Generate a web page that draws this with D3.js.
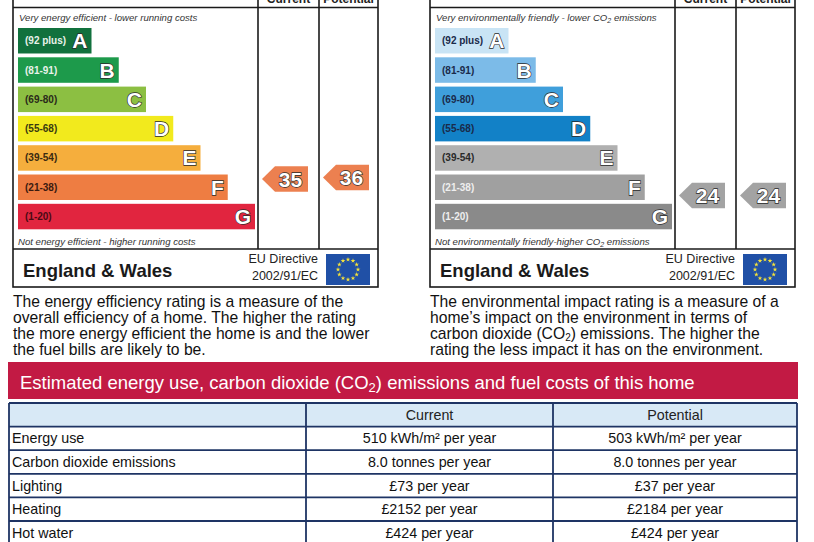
<!DOCTYPE html>
<html>
<head>
<meta charset="utf-8">
<script src="https://cdn.jsdelivr.net/npm/d3@7"></script>
<style>
  body { margin: 0; background: #fff; }
  svg { display: block; font-family: "Liberation Sans", Arial, sans-serif; }
</style>
</head>
<body>
<svg id="chart" width="814" height="542"></svg>
<script>
// Rating bands, shared by both graphs
const bands = ["A", "B", "C", "D", "E", "F", "G"];
const bandRanges = ["(92 plus)", "(81-91)", "(69-80)", "(55-68)", "(39-54)", "(21-38)", "(1-20)"];
const bandLo = [92, 81, 69, 55, 39, 21, 1];
const bandHi = [100, 91, 80, 68, 54, 38, 20];

const energyColors = ["#11713d", "#1d9a4b", "#8cbf42", "#f2ea1d", "#f5ae3d", "#ee7d42", "#e1253f"];
const envColors = ["#c9e4f5", "#7cbbe8", "#3f9fdb", "#1281c7", "#b0b0b0", "#a0a0a0", "#8a8a8a"];
const energyRangeText = ["#e9f2ea", "#e9f2ea", "#2a2a1a", "#3a3a10", "#3a2a10", "#3a1a10", "#4a0a14"];
const envRangeText = ["#1a2a4a", "#1a2a4a", "#1a2a4a", "#1a2a4a", "#2a2a2a", "#eeeeee", "#eeeeee"];

// current, potential
const energyRatings = [35, 36];
const envRatings = [24, 24];
const columnLabels = ["Current", "Potential"];

// Estimated energy use table
const tableHeader = ["", "Current", "Potential"];
const rowLabels = ["Energy use", "Carbon dioxide emissions", "Lighting", "Heating", "Hot water"];
const currentValues = ["510 kWh/m² per year", "8.0 tonnes per year", "£73 per year", "£2152 per year", "£424 per year"];
const potentialValues = ["503 kWh/m² per year", "8.0 tonnes per year", "£37 per year", "£2184 per year", "£424 per year"];

const svg = d3.select("#chart");

// Draws one rating graph (box, bars, arrows, footer)
function drawPanel(left, opts) {
	const g = svg.append("g").attr("transform", `translate(${left},0)`);
	const W = 365, footerY = 249, bottom = 287;
	const colX = [245, 306, W];

	const y = d3.scaleBand().domain(bands).range([28, 229.3]).paddingInner(0.13);
	const barW = d3.scaleLinear().domain([0, 6]).range([73.5, 237]);
	const bw = y.bandwidth();

	// Box and grid lines
	g.append("rect").attr("x", 0).attr("y", -20).attr("width", W).attr("height", bottom + 20)
		.attr("fill", "none").attr("stroke", "#1a1a1a").attr("stroke-width", 1.6);
	g.append("line").attr("x1", 0).attr("x2", W).attr("y1", 7.5).attr("y2", 7.5)
		.attr("stroke", "#1a1a1a").attr("stroke-width", 1.6);
	g.append("line").attr("x1", 0).attr("x2", W).attr("y1", footerY).attr("y2", footerY)
		.attr("stroke", "#1a1a1a").attr("stroke-width", 1.6);
	g.selectAll("line.col").data(colX.slice(0, 2)).join("line").attr("class", "col")
		.attr("x1", d => d).attr("x2", d => d).attr("y1", -20).attr("y2", footerY)
		.attr("stroke", "#1a1a1a").attr("stroke-width", 1.6);

	// Column headers (cut off at top of picture)
	g.selectAll("text.hdr").data(columnLabels).join("text").attr("class", "hdr")
		.attr("x", (d, i) => (colX[i] + colX[i + 1]) / 2).attr("y", 3)
		.attr("text-anchor", "middle").attr("font-size", 12).attr("font-weight", "bold")
		.attr("fill", "#222").text(d => d);

	// Italic captions
	const capSize = 9.6;
	const topCap = g.append("text").attr("x", 6).attr("y", 20.5).attr("font-size", capSize)
		.attr("font-style", "italic").attr("fill", "#333");
	opts.topCaption.forEach(p => topCap.append("tspan").attr("dy", p.sub ? 2 : (p.after ? -2 : 0))
		.attr("font-size", p.sub ? 7 : capSize).text(p.t));
	const botCap = g.append("text").attr("x", 5).attr("y", 244.5).attr("font-size", capSize)
		.attr("font-style", "italic").attr("fill", "#333");
	opts.bottomCaption.forEach(p => botCap.append("tspan").attr("dy", p.sub ? 2 : (p.after ? -2 : 0))
		.attr("font-size", p.sub ? 7 : capSize).text(p.t));

	// Bars
	const bar = g.selectAll("g.bar").data(bands).join("g").attr("class", "bar")
		.attr("transform", d => `translate(5,${y(d)})`);
	bar.append("rect").attr("width", (d, i) => barW(i)).attr("height", bw)
		.attr("fill", (d, i) => opts.colors[i]);
	bar.append("text").attr("x", 7).attr("y", bw / 2 + 3.5).attr("font-size", 10)
		.attr("font-weight", "bold").attr("fill", (d, i) => opts.rangeText[i])
		.text((d, i) => bandRanges[i]);
	bar.append("text").attr("x", (d, i) => barW(i) - 4).attr("y", bw / 2 + 7.5)
		.attr("text-anchor", "end").attr("font-size", 21).attr("font-weight", "bold")
		.attr("fill", "#fff").attr("stroke", "#2a2a2a").attr("stroke-width", 1.3)
		.attr("paint-order", "stroke").text(d => d);

	// Rating arrows
	const arrowW = 46, tip = 13;
	opts.ratings.forEach((v, k) => {
		const i = bandLo.findIndex((lo, j) => v >= lo && v <= bandHi[j]);
		const frac = (bandHi[i] - v) / (bandHi[i] - bandLo[i]);
		const cy = y(bands[i]) + frac * bw;
		const x0 = colX[k] + 4;
		const pts = [[x0, cy], [x0 + tip, cy - bw / 2], [x0 + arrowW, cy - bw / 2],
			[x0 + arrowW, cy + bw / 2], [x0 + tip, cy + bw / 2]];
		g.append("path").attr("d", d3.line()(pts) + "Z").attr("fill", opts.arrowColor);
		g.append("text").attr("x", x0 + tip + (arrowW - tip) / 2 - 1).attr("y", cy + 7.5)
			.attr("text-anchor", "middle").attr("font-size", 21).attr("font-weight", "bold")
			.attr("fill", "#fff").attr("stroke", "#2a2a2a").attr("stroke-width", 1.3)
			.attr("paint-order", "stroke").text(v);
	});

	// Footer
	g.append("text").attr("x", 10).attr("y", 277).attr("font-size", 18.5).attr("font-weight", "bold")
		.attr("fill", "#1a1a1a").text("England & Wales");
	g.append("text").attr("x", 305).attr("y", 263).attr("text-anchor", "end").attr("font-size", 12.5)
		.attr("fill", "#222").text("EU Directive");
	g.append("text").attr("x", 305).attr("y", 280).attr("text-anchor", "end").attr("font-size", 12.5)
		.attr("fill", "#222").text("2002/91/EC");
	g.append("rect").attr("x", 313).attr("y", 254).attr("width", 44).attr("height", 31)
		.attr("fill", "#2050a6");
	const stars = d3.range(12);
	g.selectAll("path.star").data(stars).join("path").attr("class", "star")
		.attr("d", d3.symbol(d3.symbolStar, 7))
		.attr("transform", d => `translate(${335 + 10 * Math.cos(d * Math.PI / 6)},${269.5 + 10 * Math.sin(d * Math.PI / 6)})`)
		.attr("fill", "#f5e23a");
}

drawPanel(13, {
	colors: energyColors, rangeText: energyRangeText, ratings: energyRatings, arrowColor: "#ec8050",
	topCaption: [{t: "Very energy efficient - lower running costs"}],
	bottomCaption: [{t: "Not energy efficient - higher running costs"}]
});
drawPanel(430, {
	colors: envColors, rangeText: envRangeText, ratings: envRatings, arrowColor: "#a3a3a3",
	topCaption: [{t: "Very environmentally friendly - lower CO"}, {t: "2", sub: true}, {t: " emissions", after: true}],
	bottomCaption: [{t: "Not environmentally friendly-higher CO"}, {t: "2", sub: true}, {t: " emissions", after: true}]
});

// Explanatory paragraphs
const leftPara = [
	[{t: "The energy efficiency rating is a measure of the"}],
	[{t: "overall efficiency of a home. The higher the rating"}],
	[{t: "the more energy efficient the home is and the lower"}],
	[{t: "the fuel bills are likely to be."}]
];
const rightPara = [
	[{t: "The environmental impact rating is a measure of a"}],
	[{t: "home’s impact on the environment in terms of"}],
	[{t: "carbon dioxide (CO"}, {t: "2", sub: true}, {t: ") emissions. The higher the", after: true}],
	[{t: "rating the less impact it has on the environment."}]
];
function drawPara(x, lines) {
	lines.forEach((parts, i) => {
		const t = svg.append("text").attr("x", x).attr("y", 307 + i * 16)
			.attr("font-size", 15.7).attr("fill", "#111");
		parts.forEach(p => t.append("tspan").attr("dy", p.sub ? 2 : (p.after ? -2 : 0))
			.attr("font-size", p.sub ? 10 : 15.7).text(p.t));
	});
}
drawPara(13, leftPara);
drawPara(430, rightPara);

// Red banner
svg.append("rect").attr("x", 8).attr("y", 362).attr("width", 790).attr("height", 37).attr("fill", "#c21a44");
const banner = svg.append("text").attr("x", 20).attr("y", 389).attr("font-size", 18.5)
	.attr("fill", "#fff");
banner.append("tspan").text("Estimated energy use, carbon dioxide (CO");
banner.append("tspan").attr("dy", 3).attr("font-size", 13).text("2");
banner.append("tspan").attr("dy", -3).text(") emissions and fuel costs of this home");

// Table
const colEdges = [9, 306, 553, 797];
const rowY = d3.scaleBand().domain(d3.range(rowLabels.length + 1)).range([403, 403 + 6 * 23.6]);
const rh = rowY.bandwidth();
const fs = 14.3;
const tbl = svg.append("g");
tbl.append("rect").attr("x", colEdges[0]).attr("y", rowY(0)).attr("width", colEdges[3] - colEdges[0])
	.attr("height", rh).attr("fill", "#d8e9f6");
tbl.selectAll("line.row").data(d3.range(rowLabels.length + 2)).join("line").attr("class", "row")
	.attr("x1", colEdges[0]).attr("x2", colEdges[3])
	.attr("y1", d => 403 + d * rh).attr("y2", d => 403 + d * rh)
	.attr("stroke", "#1e3464").attr("stroke-width", 1.8);
tbl.selectAll("line.colb").data(colEdges).join("line").attr("class", "colb")
	.attr("x1", d => d).attr("x2", d => d).attr("y1", 403).attr("y2", 403 + 6 * rh)
	.attr("stroke", "#1e3464").attr("stroke-width", 1.8);
tbl.selectAll("text.th").data(tableHeader).join("text").attr("class", "th")
	.attr("x", (d, i) => (colEdges[i] + colEdges[i + 1]) / 2).attr("y", rowY(0) + rh / 2 + 5)
	.attr("text-anchor", "middle").attr("font-size", fs).attr("fill", "#222").text(d => d);
const rows = tbl.selectAll("g.tr").data(rowLabels).join("g").attr("class", "tr")
	.attr("transform", (d, i) => `translate(0,${rowY(i + 1) + rh / 2 + 5})`);
rows.append("text").attr("x", 12).attr("font-size", fs).attr("fill", "#111").text(d => d);
rows.append("text").attr("x", (colEdges[1] + colEdges[2]) / 2).attr("text-anchor", "middle")
	.attr("font-size", fs).attr("fill", "#111").text((d, i) => currentValues[i]);
rows.append("text").attr("x", (colEdges[2] + colEdges[3]) / 2).attr("text-anchor", "middle")
	.attr("font-size", fs).attr("fill", "#111").text((d, i) => potentialValues[i]);
</script>
</body>
</html>
